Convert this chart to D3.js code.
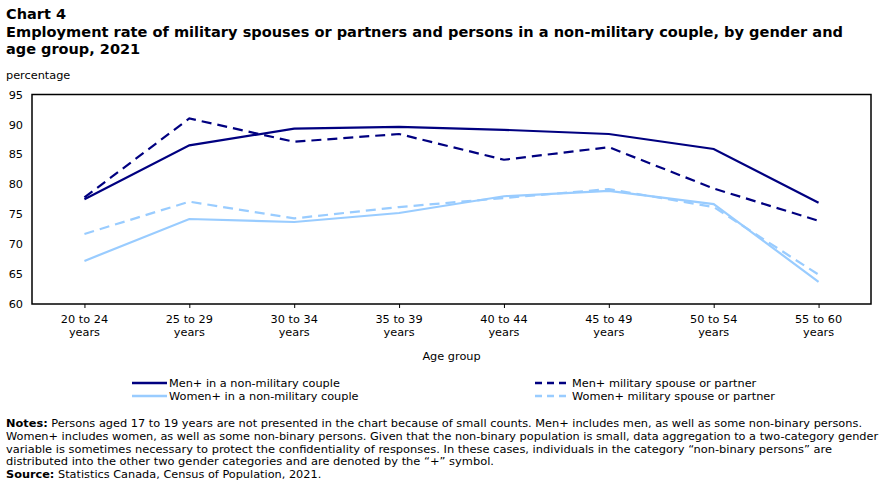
<!DOCTYPE html>
<html><head><meta charset="utf-8">
<script src="https://cdn.jsdelivr.net/npm/d3@7"></script>
<style>
body{margin:0;background:#fff;}
svg text{font-family:"DejaVu Sans",Verdana,sans-serif;fill:#000;}
</style></head>
<body><svg id="c" width="886" height="480"></svg>
<script>
const categories = ["20 to 24|years","25 to 29|years","30 to 34|years","35 to 39|years","40 to 44|years","45 to 49|years","50 to 54|years","55 to 60|years"];
const menNonMil   = [77.5, 86.5, 89.3, 89.6, 89.1, 88.4, 85.9, 76.9];
const menMil      = [77.8, 91.0, 87.1, 88.4, 84.1, 86.2, 79.3, 73.9];
const womenNonMil = [67.2, 74.2, 73.7, 75.2, 78.0, 78.9, 76.7, 63.7];
const womenMil    = [71.7, 77.1, 74.3, 76.2, 77.7, 79.2, 76.2, 64.9];
const yTicks = [60, 65, 70, 75, 80, 85, 90, 95];
const seriesNames = ["Men+ in a non-military couple","Men+ military spouse or partner","Women+ in a non-military couple","Women+ military spouse or partner"];

const dark = "#000080", light = "#99ccff";
const series = [
  {name: seriesNames[0], values: menNonMil, color: dark, dash: null},
  {name: seriesNames[1], values: menMil, color: dark, dash: "10,6"},
  {name: seriesNames[2], values: womenNonMil, color: light, dash: null},
  {name: seriesNames[3], values: womenMil, color: light, dash: "10,6"}
];

const svg = d3.select("#c");
const L = 32, R = 871, T = 94.5, B = 304;
const fs = 11.3;

function fit(t, target){
  const w = t.node().getComputedTextLength();
  if (Math.abs(w - target) > 2) t.attr("textLength",target).attr("lengthAdjust","spacingAndGlyphs");
}

// Titles
svg.append("text").attr("x",6).attr("y",19).attr("font-size",14.5).attr("font-weight","bold").text("Chart 4");
const t1 = svg.append("text").attr("x",6).attr("y",37).attr("font-size",14.5).attr("font-weight","bold")
  .text("Employment rate of military spouses or partners and persons in a non-military couple, by gender and");
fit(t1, 837);
svg.append("text").attr("x",6).attr("y",54).attr("font-size",14.5).attr("font-weight","bold").text("age group, 2021");
svg.append("text").attr("x",6).attr("y",79).attr("font-size",fs).text("percentage");

const x = d3.scalePoint().domain(d3.range(categories.length)).range([L,R]).padding(0.5);
const y = d3.scaleLinear().domain([60,95]).range([B,T]);

// frame
svg.append("rect").attr("x",L).attr("y",T).attr("width",R-L).attr("height",B-T)
  .attr("fill","none").attr("stroke","#000").attr("stroke-width",1.5);

// y axis labels
const ya = svg.append("g").attr("transform",`translate(${L},0)`)
  .call(d3.axisLeft(y).tickValues(yTicks).tickSize(0).tickPadding(9));
ya.select(".domain").remove();
ya.selectAll("text").attr("font-size",fs).style("font-family","DejaVu Sans, Verdana, sans-serif");

// x axis
const xa = svg.append("g").attr("transform",`translate(0,${B})`)
  .call(d3.axisBottom(x).tickSize(4).tickFormat(""));
xa.select(".domain").remove();
xa.selectAll("line").attr("stroke","#000");
categories.forEach((c,i)=>{
  const parts = c.split("|");
  const t = svg.append("text").attr("x",x(i)).attr("text-anchor","middle").attr("font-size",fs);
  parts.forEach((p,j)=> t.append("tspan").attr("x",x(i)).attr("y",323 + j*13).text(p));
});
svg.append("text").attr("x",(L+R)/2).attr("y",360).attr("text-anchor","middle").attr("font-size",fs).text("Age group");

// lines
const line = d3.line().x((d,i)=>x(i)).y(d=>y(d));
const order = [2,3,1,0];
order.forEach(k=>{
  const s = series[k];
  svg.append("path").datum(s.values).attr("d",line).attr("fill","none")
    .attr("stroke",s.color).attr("stroke-width",2.2).attr("stroke-dasharray",s.dash);
});

// legend
const legPos = [[132,383],[535,383],[132,396],[535,396]];
series.forEach((s,k)=>{
  const [lx,ly] = legPos[k];
  svg.append("line").attr("x1",lx).attr("x2",lx+35).attr("y1",ly).attr("y2",ly)
    .attr("stroke",s.color).attr("stroke-width",2.5).attr("stroke-dasharray",s.dash ? "7,5" : null);
  svg.append("text").attr("x",lx+37).attr("y",ly+4).attr("font-size",fs).text(s.name);
});

// notes
const notes = [
  [["Notes:",true],[" Persons aged 17 to 19 years are not presented in the chart because of small counts. Men+ includes men, as well as some non-binary persons.",false]],
  [["Women+ includes women, as well as some non-binary persons. Given that the non-binary population is small, data aggregation to a two-category gender",false]],
  [["variable is sometimes necessary to protect the confidentiality of responses. In these cases, individuals in the category \u201cnon-binary persons\u201d are",false]],
  [["distributed into the other two gender categories and are denoted by the \u201c+\u201d symbol.",false]],
  [["Source:",true],[" Statistics Canada, Census of Population, 2021.",false]]
];
const noteW = [856, 872, 826, 488, 316];
notes.forEach((ln,i)=>{
  const t = svg.append("text").attr("x",6).attr("y",427 + i*12.8).attr("font-size",fs);
  ln.forEach(([txt,b])=> t.append("tspan").attr("font-weight",b?"bold":null).text(txt));
  fit(t, noteW[i]);
});
</script></body></html>
